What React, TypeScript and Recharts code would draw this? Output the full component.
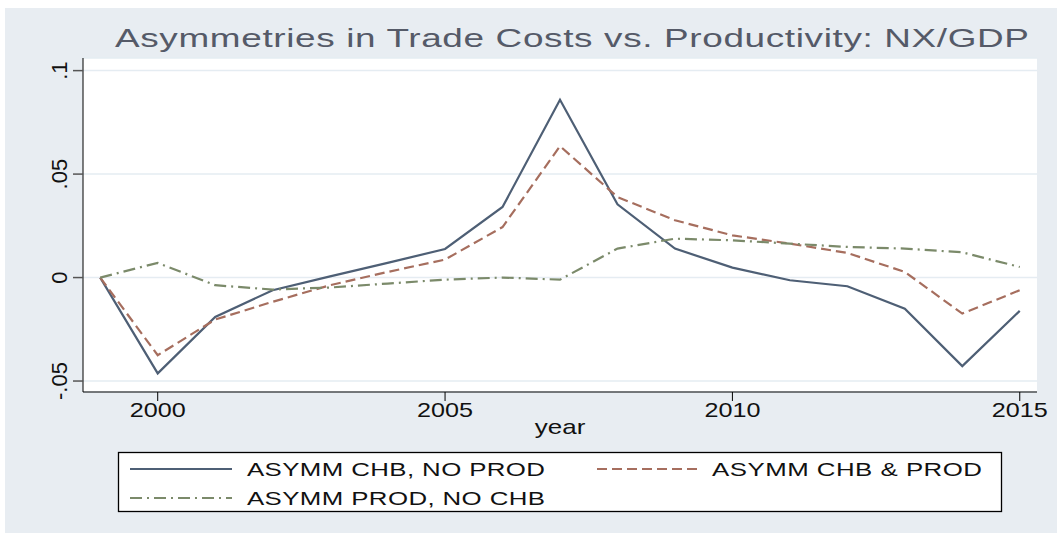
import React from 'react'
import { LineChart, Line, XAxis, YAxis, CartesianGrid, Legend } from 'recharts'

// NX/GDP under three asymmetry scenarios, 1999-2015
const years = [1999, 2000, 2001, 2002, 2003, 2004, 2005, 2006, 2007, 2008, 2009, 2010, 2011, 2012, 2013, 2014, 2015]
const chbNoProd = [0, -0.0463, -0.019, -0.0061, 0.0006, 0.0071, 0.0138, 0.0341, 0.0859, 0.0354, 0.014, 0.0048, -0.0013, -0.0042, -0.015, -0.0428, -0.0161]
const chbProd = [0, -0.0375, -0.0203, -0.0117, -0.0037, 0.0027, 0.0087, 0.0244, 0.0635, 0.0389, 0.0277, 0.0204, 0.0164, 0.0119, 0.0027, -0.0174, -0.0061]
const prodNoChb = [0, 0.0071, -0.0037, -0.0058, -0.0048, -0.0029, -0.001, 0, -0.001, 0.014, 0.0188, 0.018, 0.0164, 0.0148, 0.014, 0.0122, 0.0051]

const xTicks = [2000, 2005, 2010, 2015]
const yTicks = [-0.05, 0, 0.05, 0.1]
const yTickLabels = ['-.05', '0', '.05', '.1']

const seriesNames = ['ASYMM CHB, NO PROD', 'ASYMM CHB & PROD', 'ASYMM PROD, NO CHB']
const seriesKeys = ['chbNoProd', 'chbProd', 'prodNoChb']
const seriesColors = ['#4e5f75', '#a66e5e', '#7b8a6a']
const seriesDash = ['', '10 5', '12 5 2 5']

const title = 'Asymmetries in Trade Costs vs. Productivity: NX/GDP'

const FONT = '"Liberation Sans", Arial, Helvetica, sans-serif'

const chartData = years.map((year, i) => ({
    year,
    chbNoProd: chbNoProd[i],
    chbProd: chbProd[i],
    prodNoChb: prodNoChb[i],
}))

// Stata export is stretched sideways, so glyphs are scaled and spaced out
function StretchText({ x, y, text, size, scale, width, anchor = 'middle', color = '#111' }: any) {
    return (
        <text
            transform={`translate(${x},${y}) scale(${scale},1)`}
            textAnchor={anchor}
            fontSize={size}
            fontFamily={FONT}
            fill={color}
            textLength={width ? width / scale : undefined}
            lengthAdjust={width ? 'spacing' : undefined}
        >
            {text}
        </text>
    )
}

const XTick = (props: any) => {
    const { x, y, payload } = props
    return <StretchText x={x} y={y + 14} text={String(payload.value)} size={20} scale={1.26} />
}

const YTick = (props: any) => {
    const { x, y, payload } = props
    const idx = yTicks.indexOf(payload.value)
    const bx = x - 4
    return (
        <text
            x={bx}
            y={y}
            transform={`rotate(-90, ${bx}, ${y})`}
            textAnchor="middle"
            fontSize={22}
            fontFamily={FONT}
            fill="#111"
        >
            {yTickLabels[idx]}
        </text>
    )
}

const YearLabel = (props: any) => {
    const { viewBox } = props
    const cx = viewBox.x + viewBox.width / 2
    return <StretchText x={cx} y={viewBox.y + 42} text="year" size={20} scale={1.3} />
}

const LegendBox = () => {
    const rows = [
        { sx: 130, tx: 247, y: 469, w: 298, i: 0 },
        { sx: 597, tx: 712, y: 469, w: 270, i: 1 },
        { sx: 130, tx: 247, y: 498, w: 298, i: 2 },
    ]
    return (
        <svg width={1057} height={533} style={{ position: 'absolute', left: 0, top: 0 }}>
            <rect x={118.5} y={452.5} width={883} height={59} fill="#fff" stroke="#000" strokeWidth={1.3} />
            {rows.map(r => (
                <g key={r.i}>
                    <line
                        x1={r.sx}
                        x2={r.sx + 102}
                        y1={r.y}
                        y2={r.y}
                        stroke={seriesColors[r.i]}
                        strokeWidth={2.2}
                        strokeDasharray={seriesDash[r.i] || undefined}
                    />
                    <StretchText x={r.tx} y={r.y + 7} text={seriesNames[r.i]} size={19} scale={1.36} width={r.w} anchor="start" />
                </g>
            ))}
        </svg>
    )
}

export default function App() {
    return (
        <div style={{ position: 'relative', width: 1057, height: 533, background: '#fff', overflow: 'hidden' }}>
            <style>{'body{margin:0}'}</style>
            <div style={{ position: 'absolute', left: 5, top: 8, right: 0, bottom: 0, background: '#e8edf2' }} />
            <svg width={1057} height={60} style={{ position: 'absolute', left: 0, top: 0 }}>
                <StretchText x={572} y={47} text={title} size={26} scale={1.42} width={914} color="#555a68" />
            </svg>
            <div style={{ position: 'absolute', left: 0, top: 0 }}>
                <LineChart
                    width={1057}
                    height={533}
                    data={chartData}
                    margin={{ top: 58, right: 20, bottom: 97, left: 0 }}
                >
                    <CartesianGrid vertical={false} fill="#fff" stroke="#e5ecf2" strokeWidth={1.5} />
                    <XAxis
                        dataKey="year"
                        type="number"
                        domain={[1998.7, 2015.3]}
                        ticks={xTicks}
                        allowDataOverflow
                        height={44}
                        tickSize={9}
                        stroke="#000"
                        tick={<XTick />}
                        label={(p: any) => <YearLabel {...p} />}
                    />
                    <YAxis
                        type="number"
                        domain={[-0.0553, 0.1061]}
                        ticks={yTicks}
                        allowDataOverflow
                        width={83}
                        tickSize={10}
                        stroke="#000"
                        tickLine={{ stroke: '#555', strokeWidth: 1.5 }}
                        tick={<YTick />}
                    />
                    <Legend
                        layout="horizontal"
                        verticalAlign="middle"
                        align="center"
                        wrapperStyle={{ left: 0, top: 0, width: 1057, height: 533, pointerEvents: 'none' }}
                        content={() => <LegendBox />}
                    />
                    {seriesKeys.map((key, i) => (
                        <Line
                            key={key}
                            type="linear"
                            dataKey={key}
                            name={seriesNames[i]}
                            stroke={seriesColors[i]}
                            strokeWidth={2.2}
                            strokeDasharray={seriesDash[i] || undefined}
                            dot={false}
                            activeDot={false}
                            isAnimationActive={false}
                        />
                    ))}
                </LineChart>
            </div>
        </div>
    )
}
